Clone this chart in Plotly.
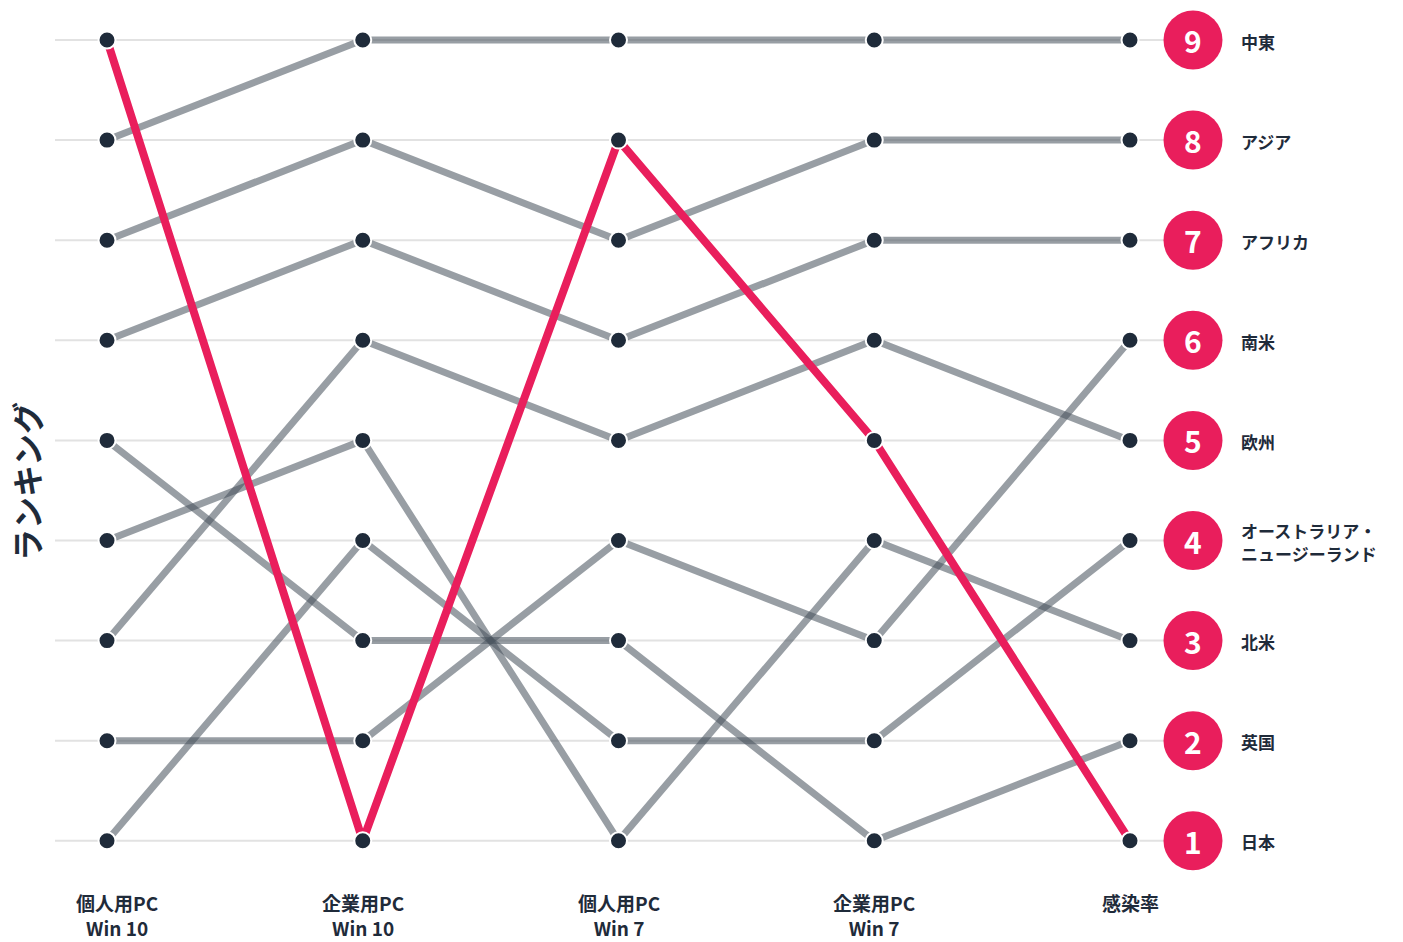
import plotly.graph_objects as go

columns = ["個人用PC<br>Win 10", "企業用PC<br>Win 10", "個人用PC<br>Win 7", "企業用PC<br>Win 7", "感染率"]
regions = ["中東", "アジア", "アフリカ", "南米", "欧州",
           "オーストラリア・<br>ニュージーランド", "北米", "英国", "日本"]
ranks_middle_east = [8, 9, 9, 9, 9]
ranks_asia = [7, 8, 7, 8, 8]
ranks_africa = [6, 7, 6, 7, 7]
ranks_south_america = [2, 2, 4, 3, 6]
ranks_europe = [3, 6, 5, 6, 5]
ranks_oceania = [1, 4, 2, 2, 4]
ranks_north_america = [4, 5, 1, 4, 3]
ranks_uk = [5, 3, 3, 1, 2]
ranks_japan = [9, 1, 8, 5, 1]
all_ranks = [ranks_middle_east, ranks_asia, ranks_africa, ranks_south_america,
             ranks_europe, ranks_oceania, ranks_north_america, ranks_uk, ranks_japan]
rank_levels = list(range(1, 10))

FONT = "Noto Sans CJK JP"
DARK = "#1f2b3a"
PINK = "#e91e5c"
GRAY = "rgba(72,82,92,0.56)"

W, H = 1403, 942
PX_X = 255.75   # pixels per column step
PX_Y = 100.1    # pixels per rank step
X0, Y9 = 107, 40  # pixel position of column 0 / rank 9


def xpx(p):
    return (p - X0) / PX_X


def ypx(p):
    return 9 - (p - Y9) / PX_Y


xs = list(range(len(columns)))
fig = go.Figure()

for v in rank_levels:
    fig.add_shape(type="line", x0=xpx(55), x1=xpx(1165), y0=v, y1=v, xref="x", yref="y",
                  line=dict(color="#e2e2e2", width=2), layer="below")

for name, r in zip(regions[:-1], all_ranks[:-1]):
    fig.add_trace(go.Scatter(x=xs, y=r, mode="lines", name=name,
                             line=dict(color=GRAY, width=7), hoverinfo="skip"))

fig.add_trace(go.Scatter(x=xs, y=ranks_japan, mode="lines", name="日本",
                         line=dict(color=PINK, width=8), hoverinfo="skip"))

mx, my = [], []
for r in all_ranks:
    mx += xs
    my += r
fig.add_trace(go.Scatter(x=mx, y=my, mode="markers",
                         marker=dict(color=DARK, size=17, line=dict(color="white", width=2)),
                         hoverinfo="skip"))

final = [r[-1] for r in all_ranks]
fig.add_trace(go.Scatter(x=[xpx(1193)] * len(final), y=final, mode="markers",
                         marker=dict(color=PINK, size=59, line=dict(width=0)),
                         hoverinfo="skip"))
for v in final:
    fig.add_annotation(x=xpx(1193), y=v, xref="x", yref="y", text=str(v),
                       showarrow=False, xanchor="center", yanchor="middle",
                       font=dict(family=FONT, size=30, color="white", weight="bold"))

LINE_GAP = 23
for name, v in zip(regions, final):
    parts = name.split("<br>")
    n = len(parts)
    for k, part in enumerate(parts):
        off = (k - (n - 1) / 2) * LINE_GAP + 1
        fig.add_annotation(x=xpx(1239), y=v - off / PX_Y, xref="x", yref="y", text=part,
                           showarrow=False, xanchor="left", yanchor="middle", align="left",
                           font=dict(family=FONT, size=17, color=DARK, weight="bold"))

for i, c in enumerate(columns):
    xoff = 10 if i == 0 else 0
    n = len(c.split("<br>"))
    yc = 902 + (n - 1) * 12.5
    fig.add_annotation(x=xpx(X0 + i * PX_X + xoff), y=ypx(yc), xref="x", yref="y",
                       text=c, showarrow=False, xanchor="center", yanchor="middle",
                       align="center",
                       font=dict(family=FONT, size=19, color=DARK, weight="bold"))

fig.add_annotation(x=xpx(26), y=ypx(482), xref="x", yref="y", text="ランキング",
                   showarrow=False, textangle=-90, xanchor="center", yanchor="middle",
                   font=dict(family=FONT, size=32, color=DARK, weight="bold"))

fig.update_layout(
    width=W, height=H,
    margin=dict(l=0, r=0, t=0, b=0),
    plot_bgcolor="white", paper_bgcolor="white",
    showlegend=False,
    xaxis=dict(range=[xpx(0), xpx(W)], showgrid=False, zeroline=False,
               showticklabels=False, showline=False, fixedrange=True),
    yaxis=dict(range=[ypx(H), ypx(0)], showgrid=False, zeroline=False,
               showticklabels=False, showline=False, fixedrange=True),
)

fig.write_html("out.html")
